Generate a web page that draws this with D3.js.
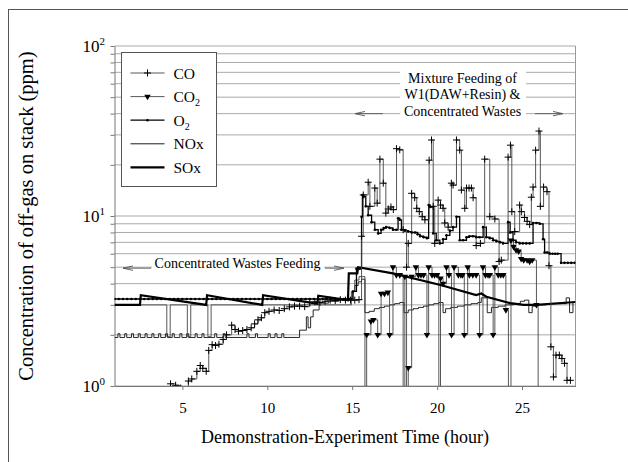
<!DOCTYPE html>
<html>
<head>
<meta charset="utf-8">
<script src="https://cdn.jsdelivr.net/npm/d3@7"></script>
<style>
  body { margin: 0; background: #fff; }
  text { font-family: "Liberation Serif", "Times New Roman", serif; fill: #000; }
</style>
</head>
<body>
<svg id="chart" width="628" height="462"></svg>
<script>
// hours on x, ppm on y (log)
var xDomain = [1, 28.15];
var yDomain = [1, 100];
var xTicks = [5, 10, 15, 20, 25];
var yDecades = [1, 10, 100];
var yDecadeExp = ["0", "1", "2"];

var coData = [
  [4.3,1.03],[4.6,1.01],[4.9,0.97],[5.35,1.07],[5.55,1.1],[5.85,1.22],[6.05,1.32],[6.2,1.27],[6.4,1.22],
  [6.55,1.62],[6.75,1.75],[6.95,1.73],[7.15,1.76],[7.4,1.88],[7.6,2.0],[7.9,2.28],[8.1,2.15],[8.3,2.1],
  [8.55,2.12],[8.8,2.15],[9.05,2.2],[9.25,2.32],[9.45,2.45],[9.65,2.52],[9.85,2.7],[10.1,2.75],[10.4,2.8],
  [10.7,2.78],[11.0,2.85],[11.3,2.92],[11.6,2.95],[11.9,2.95],[12.2,2.93],[12.5,3.1],[12.8,3.13],[13.1,3.1],
  [13.4,3.15],[13.7,3.2],[14.0,3.18],[14.3,3.22],[14.6,3.2],[14.9,3.2],[15.15,3.2],[15.4,3.22],
  [15.55,7.6],[15.65,13.3],[15.94,15.8],[16.04,11.4],[16.33,14.6],[16.47,11.9],[16.63,21.6],[16.83,15.6],
  [16.98,10.4],[17.12,11.0],[17.28,11.3],[17.42,10.9],[17.61,24.9],[17.8,24.5],[18.0,8.3],[18.2,5.0],
  [18.3,6.9],[18.5,13.6],[18.68,12.8],[18.8,11.1],[18.95,10.6],[19.12,9.9],[19.28,9.5],[19.53,21.3],
  [19.67,28],[19.77,11.4],[19.86,6.9],[20.06,12.4],[20.2,11.6],[20.35,11.1],[20.45,9.1],[20.65,8.6],
  [20.84,15.6],[20.94,15.2],[21.14,28],[21.33,24.4],[21.43,14.2],[21.63,11.1],[21.73,14.6],[21.88,14.6],
  [22.02,14.6],[22.12,12.8],[22.3,6.7],[22.55,6.9],[22.8,21.6],[23.1,9.9],[23.4,9.6],[23.65,5.4],
  [23.78,5.5],[24.18,22.2],[24.32,26.1],[24.4,10.6],[24.57,8.1],[24.86,11.6],[24.96,10.6],[25.15,9.8],
  [25.3,9.3],[25.45,8.9],[25.55,12.9],[25.65,14.8],[25.8,24.4],[26.0,31.6],[26.08,11.4],[26.27,14.8],
  [26.47,13.9],[26.59,5.1],[26.7,1.7],[26.85,1.13],[27.0,1.52],[27.2,1.52],[27.35,1.45],[27.5,1.36],
  [27.65,1.08],[27.85,1.08]
];

// CO2 before the mixture feeding (line only)
var co2Early = [
  [1.0,3.0],[4.08,1.95],[4.28,3.0],[5.29,1.95],[5.49,3.0],[6.5,1.95],[6.69,3.0],
  [14.95,3.6],[15.15,4.2],[15.4,4.4]
];
// CO2 during the mixture feeding (line + triangles)
var co2Late = [
  [15.75,0.1],[15.85,2.0],[16.1,2.4],[16.25,2.45],[16.5,2.0],[16.7,3.5],[16.9,3.5],[17.1,3.55],
  [17.2,2.0],[17.4,5.0],[17.6,4.5],[17.8,4.5],[18.0,0.1],[18.1,4.4],[18.2,0.1],[18.3,1.28],[18.5,4.4],
  [18.75,5.0],[18.9,4.5],[19.05,4.5],[19.2,4.5],[19.4,2.0],[19.5,5.0],[19.7,4.5],[19.85,4.5],[20.0,4.5],
  [20.1,0.1],[20.2,4.3],[20.35,4.0],[20.55,5.0],[20.7,4.5],[20.85,2.0],[21.0,5.0],[21.25,4.5],[21.4,4.5],
  [21.5,4.5],[21.6,2.0],[21.8,5.0],[21.9,4.5],[22.1,4.5],[22.3,4.5],[22.5,2.0],[22.7,5.0],[22.85,4.5],
  [23.0,4.5],[23.1,4.5],[23.3,2.0],[23.4,5.0],[23.6,4.5],[23.75,4.5],[23.9,4.5],[24.05,2.8],[24.2,0.1],
  [24.35,7.2],[24.5,6.6],[24.65,6.3],[24.8,6.2],[24.95,5.6],[25.1,5.5],[25.3,5.5],[25.45,5.4],[25.6,5.5],
  [25.85,3.0],[25.95,0.1],[28.15,0.1]
];

var o2Data = [
  [1.0,3.25],[1.25,3.25],[1.5,3.25],[1.75,3.25],[2.0,3.25],[2.25,3.25],[2.5,3.25],[2.75,3.25],
  [3.0,3.25],[3.25,3.25],[3.5,3.25],[3.75,3.25],[4.0,3.25],[4.25,3.25],[4.5,3.25],[4.75,3.25],
  [5.0,3.25],[5.25,3.25],[5.5,3.25],[5.75,3.25],[6.0,3.25],[6.25,3.25],[6.5,3.25],[6.75,3.25],
  [7.0,3.25],[7.25,3.25],[7.5,3.25],[7.75,3.25],[8.0,3.25],[8.25,3.25],[8.5,3.25],[8.75,3.25],
  [9.0,3.25],[9.25,3.25],[9.5,3.25],[9.75,3.25],[10.0,3.25],[10.25,3.25],[10.5,3.25],[10.75,3.25],
  [11.0,3.25],[11.25,3.25],[11.5,3.25],[11.75,3.25],[12.0,3.25],[12.25,3.25],[12.5,3.25],[12.75,3.25],
  [13.0,3.25],[13.25,3.25],[13.5,3.25],[13.75,3.25],[14.0,3.25],[14.25,3.25],[14.5,3.25],[14.75,3.25],
  [14.9,3.25],[15.05,3.6],[15.25,4.9],[15.45,4.9],[15.55,9.9],[15.6,13.3],[15.67,13.0],[15.8,11.4],
  [15.94,10.1],[16.14,9.2],[16.33,8.3],[16.53,7.9],[16.7,8.3],[16.85,8.5],[17.0,8.6],[17.2,8.5],
  [17.4,8.3],[17.6,8.3],[17.7,9.7],[17.8,9.5],[17.9,8.3],[18.1,8.2],[18.3,8.1],[18.5,8.0],[18.7,8.0],
  [18.85,7.8],[19.0,7.6],[19.2,7.5],[19.4,7.4],[19.5,11.6],[19.6,11.3],[19.77,7.9],[19.95,7.2],
  [20.16,6.9],[20.35,7.3],[20.55,7.7],[20.75,8.2],[20.94,8.6],[21.14,9.9],[21.33,7.2],[21.53,7.2],
  [21.73,7.5],[21.9,7.6],[22.1,7.6],[22.3,7.5],[22.5,7.5],[22.71,8.6],[22.9,7.5],[23.1,7.4],[23.3,7.2],
  [23.5,7.1],[23.7,7.0],[23.88,6.9],[24.18,9.2],[24.3,8.0],[24.47,7.2],[24.65,7.0],[24.86,6.9],
  [25.05,6.9],[25.25,6.9],[25.45,6.9],[25.65,9.1],[25.85,9.1],[26.04,9.0],[26.24,7.3],[26.33,6.1],
  [26.48,6.1],[26.63,6.0],[26.8,6.0],[26.95,6.0],[27.1,6.0],[27.3,5.3],[27.5,5.3],[27.7,5.3],
  [27.9,5.3],[28.1,5.3]
];

var noxData = [
  [1.0,1.93],[1.2,2.03],[1.32,1.93],[1.6,2.03],[1.72,1.93],[2.0,2.03],[2.12,1.93],[2.4,2.03],[2.52,1.93],
  [2.8,2.03],[2.92,1.93],[3.2,2.03],[3.32,1.93],[3.6,2.03],[3.72,1.93],[4.0,2.03],[4.12,1.93],[4.4,2.03],
  [4.52,1.93],[4.85,2.03],[4.97,1.93],[5.25,2.03],[5.37,1.93],[5.75,2.03],[5.87,1.93],[6.15,2.03],
  [6.27,1.93],[6.9,2.03],[7.02,1.93],[7.4,2.03],[7.52,1.93],[8.8,2.03],[8.92,1.93],[9.3,2.03],[9.42,1.93],
  [10.05,2.03],[10.17,1.93],[10.45,2.03],[10.57,1.93],[10.85,2.03],[10.97,1.93],[11.9,2.13],[12.3,2.55],
  [12.4,2.2],[12.55,2.55],[12.7,2.8],[13.05,3.07],[13.6,3.15],[14.2,3.2],[14.85,3.3],[15.0,3.6],
  [15.15,3.9],[15.35,4.1],[15.55,4.25],[15.75,2.7],[16.0,2.75],[16.3,2.85],[16.6,2.9],[16.9,2.95],
  [17.2,3.0],[17.5,3.05],[17.8,3.1],[18.05,2.7],[18.3,2.8],[18.6,2.85],[18.9,2.9],[19.2,2.95],[19.5,3.0],
  [19.8,3.05],[20.1,3.1],[20.35,2.7],[20.5,2.85],[20.8,2.9],[21.2,2.95],[21.6,3.0],[22.0,3.05],
  [22.4,3.1],[22.6,3.3],[22.95,2.7],[23.2,2.9],[23.6,2.95],[24.0,3.0],[24.5,3.05],[24.9,3.15],
  [25.15,3.2],[25.4,2.7],[25.6,2.95],[25.9,3.0],[26.4,3.05],[27.0,3.05],[27.6,3.3],[27.8,2.7],[28.0,3.1]
];

var soxData = [
  [1.0,3.0],[2.5,3.0],[2.55,3.42],[6.4,3.0],[6.45,3.42],[9.7,3.0],[9.75,3.42],[12.95,3.05],[13.0,3.4],
  [14.75,3.2],[14.8,4.6],[15.3,4.6],[15.35,5.0],[17.4,4.6],[20.2,3.93],[22.3,3.43],[22.6,3.5],
  [22.9,3.35],[24.3,3.07],[25.1,3.0],[25.85,3.0],[28.15,3.12]
];

var legendNames = ["CO", "CO", "O", "NOx", "SOx"];
var legendSubs = ["", "2", "2", "", ""];
var leftNote = "Concentrated Wastes Feeding";
var rightNote = ["Mixture Feeding of", "W1(DAW+Resin) &", "Concentrated Wastes"];
var xTitle = "Demonstration-Experiment Time (hour)";
var yTitle = "Concentration of off-gas on stack (ppm)";

var svg = d3.select("#chart");

// outer frame
svg.append("rect")
  .attr("x", 8.5).attr("y", 9.5)
  .attr("width", 700).attr("height", 600)
  .attr("fill", "none").attr("stroke", "#555");

var x = d3.scaleLinear().domain(xDomain).range([114.5, 575.5]);
var y = d3.scaleLog().domain(yDomain).range([386, 46]);
var x0 = x.range()[0], x1 = x.range()[1];

// grid
svg.append("g")
  .selectAll("line")
  .data(y.ticks())
  .join("line")
    .attr("x1", x0).attr("x2", x1)
    .attr("y1", d => y(d)).attr("y2", d => y(d))
    .attr("stroke", "#aaa").attr("stroke-width", 1);

// right border
svg.append("line")
  .attr("x1", x1).attr("x2", x1).attr("y1", y(100)).attr("y2", y(1))
  .attr("stroke", "#999");

// axes
var yAxis = svg.append("g")
  .attr("transform", "translate(" + x0 + ",0)")
  .call(d3.axisLeft(y).tickValues(y.ticks()).tickSize(4).tickSizeOuter(0).tickFormat(""));
yAxis.selectAll("line, path").attr("stroke", "#777");

var xAxis = svg.append("g")
  .attr("transform", "translate(0," + y(1) + ")")
  .call(d3.axisBottom(x).tickValues(xTicks).tickSize(4).tickSizeOuter(0).tickPadding(12));
xAxis.selectAll("line, path").attr("stroke", "#777");
xAxis.selectAll("text")
  .attr("font-size", "15px")
  .attr("font-family", "Liberation Serif, serif")
  .attr("fill", "#000");

// decade labels
var dec = svg.append("g")
  .selectAll("text")
  .data(yDecades)
  .join("text")
    .attr("x", 105)
    .attr("y", d => y(d) + 6)
    .attr("text-anchor", "end")
    .attr("font-size", "17px");
dec.append("tspan").text("10");
dec.append("tspan")
  .attr("dy", -7).attr("font-size", "11px")
  .text((d, i) => yDecadeExp[i]);

// titles
svg.append("text")
  .attr("x", (x0 + x1) / 2).attr("y", 443)
  .attr("text-anchor", "middle").attr("font-size", "18px")
  .text(xTitle);
svg.append("text")
  .attr("transform", "translate(33," + (y(1) + y(100)) / 2 + ") rotate(-90)")
  .attr("text-anchor", "middle").attr("font-size", "20.5px")
  .text(yTitle);

// data
svg.append("clipPath").attr("id", "plotclip")
  .append("rect")
    .attr("x", x0).attr("y", y(100))
    .attr("width", x1 - x0).attr("height", y(1) - y(100));

var plot = svg.append("g").attr("clip-path", "url(#plotclip)");

var step = d3.line().x(d => x(d[0])).y(d => y(d[1])).curve(d3.curveStepAfter);
var straight = d3.line().x(d => x(d[0])).y(d => y(d[1]));

plot.append("path").datum(noxData).attr("d", step)
  .attr("fill", "none").attr("stroke", "#111").attr("stroke-width", 0.9);

plot.append("path").datum(co2Early.concat(co2Late)).attr("d", step)
  .attr("fill", "none").attr("stroke", "#444").attr("stroke-width", 0.9);

plot.append("path").datum(soxData).attr("d", straight)
  .attr("fill", "none").attr("stroke", "#000").attr("stroke-width", 2.2);

plot.append("path").datum(o2Data).attr("d", step)
  .attr("fill", "none").attr("stroke", "#000").attr("stroke-width", 1.3);

plot.append("path").datum(coData).attr("d", step)
  .attr("fill", "none").attr("stroke", "#444").attr("stroke-width", 0.9);

var tri = d3.symbol().type(d3.symbolTriangle).size(18);
var plus = "M-3.5,0H3.5M0,-3.5V3.5";

plot.append("g").selectAll("path")
  .data(co2Late)
  .join("path")
    .attr("d", tri)
    .attr("transform", d => "translate(" + x(d[0]) + "," + y(d[1]) + ") rotate(180)")
    .attr("fill", "#000");

plot.append("g").selectAll("circle")
  .data(o2Data)
  .join("circle")
    .attr("cx", d => x(d[0])).attr("cy", d => y(d[1]))
    .attr("r", 1.3).attr("fill", "#000");

plot.append("g").selectAll("path")
  .data(coData)
  .join("path")
    .attr("d", plus)
    .attr("transform", d => "translate(" + x(d[0]) + "," + y(d[1]) + ")")
    .attr("stroke", "#000").attr("stroke-width", 1).attr("fill", "none");

// legend
var lg = svg.append("g").attr("transform", "translate(121.5,52.5)");
lg.append("rect").attr("width", 95).attr("height", 134)
  .attr("fill", "#fff").attr("stroke", "#555");

var item = lg.selectAll("g.item")
  .data(legendNames)
  .join("g")
    .attr("class", "item")
    .attr("transform", (d, i) => "translate(0," + (20.5 + i * 23.6) + ")");

item.append("line")
  .attr("x1", 9).attr("x2", 43)
  .attr("stroke", (d, i) => i < 2 ? "#444" : "#000")
  .attr("stroke-width", (d, i) => i === 4 ? 2.2 : (i === 2 ? 1.3 : 0.9));

item.filter((d, i) => i === 0).append("path")
  .attr("d", plus).attr("transform", "translate(26,0)")
  .attr("stroke", "#000").attr("fill", "none");
item.filter((d, i) => i === 1).append("path")
  .attr("d", tri).attr("transform", "translate(26,0) rotate(180)")
  .attr("fill", "#000");
item.filter((d, i) => i === 2).append("circle")
  .attr("cx", 26).attr("r", 1.3).attr("fill", "#000");

var lt = item.append("text")
  .attr("x", 52).attr("y", 5.5)
  .attr("font-size", "15.5px");
lt.append("tspan").text(d => d);
lt.append("tspan")
  .attr("dy", 4).attr("font-size", "10px")
  .text((d, i) => legendSubs[i]);

// annotations
function arrow(g, xa, xb, yy) {
  // tip at xb
  var dir = xb > xa ? -1 : 1;
  g.append("line").attr("x1", xa).attr("x2", xb).attr("y1", yy).attr("y2", yy)
    .attr("stroke", "#555").attr("stroke-width", 0.9);
  g.append("path")
    .attr("d", "M" + (xb + dir * 10) + "," + (yy - 2.2) + "L" + xb + "," + yy + "L" + (xb + dir * 10) + "," + (yy + 2.2))
    .attr("fill", "none").attr("stroke", "#555").attr("stroke-width", 0.9);
}

var ann = svg.append("g");
var leftY = y(5) + 1;
ann.append("rect").attr("x", 152).attr("y", leftY - 12).attr("width", 172).attr("height", 16).attr("fill", "#fff");
ann.append("text").attr("x", 237.5).attr("y", leftY).attr("text-anchor", "middle")
  .attr("font-size", "14px").text(leftNote);
arrow(ann, 151, 123, leftY);
arrow(ann, 325, 344, leftY);

var rightY = y(40);
ann.append("rect").attr("x", 400).attr("y", rightY - 45).attr("width", 126).attr("height", 49).attr("fill", "#fff");
ann.append("g").selectAll("text")
  .data(rightNote)
  .join("text")
    .attr("x", 462.5)
    .attr("y", (d, i) => rightY + 2 - (2 - i) * 16.5)
    .attr("text-anchor", "middle")
    .attr("font-size", "14px")
    .text(d => d);
arrow(ann, 383, 355, rightY);
arrow(ann, 535, 563, rightY);
</script>
</body>
</html>
